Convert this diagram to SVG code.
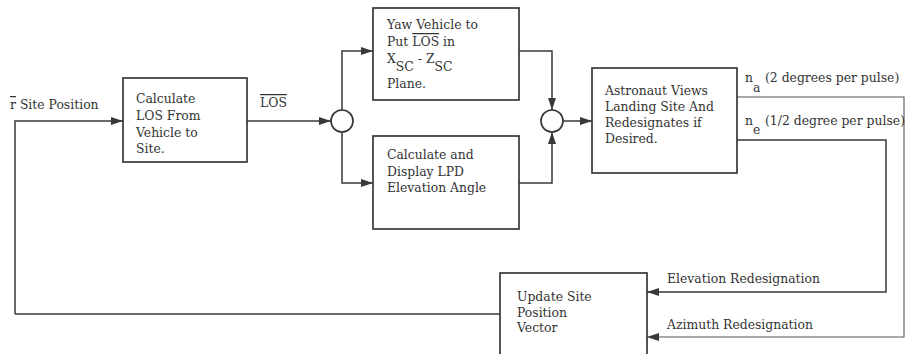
<svg xmlns="http://www.w3.org/2000/svg" width="907" height="354" viewBox="0 0 907 354">
<style>
  .box{fill:none;stroke:#383838;stroke-width:1.7}
  .ln{fill:none;stroke:#383838;stroke-width:1.5}
  .ln2{fill:none;stroke:#555;stroke-width:1.1}
  text{font-family:"DejaVu Serif","Liberation Serif",serif;font-size:12.4px;fill:#333}
  .ov{text-decoration:overline}
</style>
<defs>
  <marker id="ah" markerUnits="userSpaceOnUse" markerWidth="13" markerHeight="9" refX="12" refY="4" orient="auto">
    <path d="M0,0 L12,4 L0,8 z" fill="#383838"/>
  </marker>
</defs>
<rect width="907" height="354" fill="#fff"/>
<g id="connectors">
  <path class="ln" d="M15,314 L15,121 L123,121" marker-end="url(#ah)"/>
  <path class="ln" d="M247,121 L331,121" marker-end="url(#ah)"/>
  <path class="ln" d="M342,110 L342,51 L373,51" marker-end="url(#ah)"/>
  <path class="ln" d="M342,132 L342,183 L373,183" marker-end="url(#ah)"/>
  <path class="ln" d="M519,51 L552,51 L552,110" marker-end="url(#ah)"/>
  <path class="ln" d="M519,183 L552,183 L552,132" marker-end="url(#ah)"/>
  <path class="ln" d="M563,121 L592,121" marker-end="url(#ah)"/>
  <path class="ln2" d="M737,97 L904,97 L904,337 L647,337" marker-end="url(#ah)"/>
  <path class="ln" d="M737,140 L886,140 L886,292 L647,292" marker-end="url(#ah)"/>
  <path class="ln" d="M500,314 L15,314"/>
</g>
<g id="label-site">
  <text x="10" y="109"><tspan class="ov">r</tspan> Site Position</text>
</g>
<g id="label-los">
  <text x="260" y="107"><tspan class="ov">LOS</tspan></text>
</g>
<g id="calc-los">
  <rect class="box" x="123" y="78" width="124" height="84"/>
  <text x="136" y="103">Calculate</text>
  <text x="136" y="120">LOS From</text>
  <text x="136" y="137">Vehicle to</text>
  <text x="136" y="153">Site.</text>
</g>
<g id="sum1">
  <circle class="box" cx="342" cy="121" r="11"/>
</g>
<g id="yaw">
  <rect class="box" x="373" y="8" width="146" height="92"/>
  <text x="387" y="29">Yaw Vehicle to</text>
  <text x="387" y="46">Put <tspan class="ov">LOS</tspan> in</text>
  <text x="387" y="63">X<tspan dy="8">SC</tspan><tspan dy="-8"> - </tspan>Z<tspan dy="8">SC</tspan></text>
  <text x="387" y="88">Plane.</text>
</g>
<g id="calc-display">
  <rect class="box" x="373" y="136" width="146" height="93"/>
  <text x="387" y="159">Calculate and</text>
  <text x="387" y="176">Display LPD</text>
  <text x="387" y="192">Elevation Angle</text>
</g>
<g id="sum2">
  <circle class="box" cx="552" cy="121" r="11"/>
</g>
<g id="astronaut">
  <rect class="box" x="592" y="68" width="145" height="105"/>
  <text x="605" y="95">Astronaut Views</text>
  <text x="605" y="111">Landing Site And</text>
  <text x="605" y="127">Redesignates if</text>
  <text x="605" y="143">Desired.</text>
</g>
<g id="label-na">
  <text x="745" y="82">n<tspan dy="10">a</tspan><tspan x="765" dy="-10">(2 degrees per pulse)</tspan></text>
</g>
<g id="label-ne">
  <text x="745" y="125">n<tspan dy="9">e</tspan><tspan x="765" dy="-9">(1/2 degree per pulse)</tspan></text>
</g>
<g id="update">
  <rect class="box" x="500" y="273" width="147" height="90"/>
  <text x="517" y="301">Update Site</text>
  <text x="517" y="317">Position</text>
  <text x="517" y="332">Vector</text>
</g>
<g id="label-elev">
  <text x="667" y="283">Elevation Redesignation</text>
</g>
<g id="label-azim">
  <text x="667" y="329">Azimuth Redesignation</text>
</g>
</svg>
